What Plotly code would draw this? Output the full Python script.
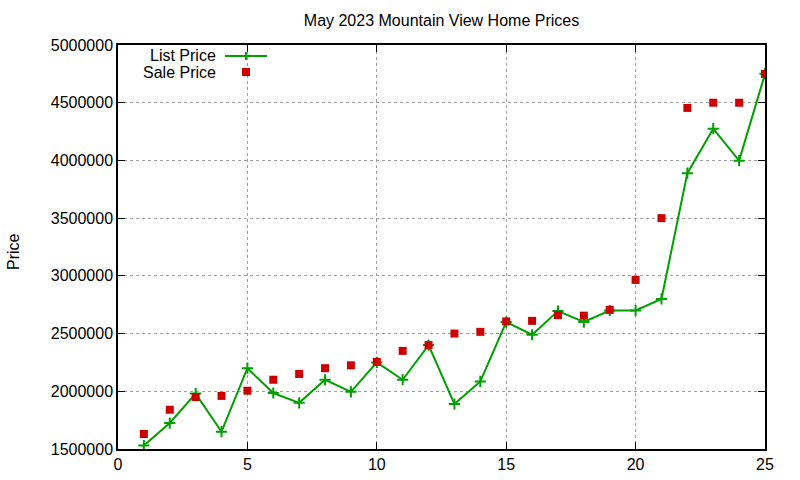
import plotly.graph_objects as go

days = list(range(1, 26))
list_price = [1530000, 1725000, 1980000, 1650000, 2200000, 1985000, 1900000, 2100000,
              1995000, 2250000, 2100000, 2400000, 1890000, 2085000, 2600000, 2490000,
              2695000, 2600000, 2700000, 2700000, 2800000, 3890000, 4275000, 3998000, 4750000]
sale_price = [1630000, 1840000, 1950000, 1960000, 2005000, 2100000, 2150000, 2200000,
              2225000, 2255000, 2350000, 2400000, 2500000, 2515000, 2605000, 2610000,
              2660000, 2655000, 2705000, 2965000, 3500000, 4455000, 4500000, 4500000, 4750000]
x_ticks = [0, 5, 10, 15, 20, 25]
y_ticks = [1500000, 2000000, 2500000, 3000000, 3500000, 4000000, 4500000, 5000000]

GREEN = "#00a000"
RED = "#cc0000"
FONT = "Liberation Sans, Arial, sans-serif"

fig = go.Figure()
fig.add_trace(go.Scatter(x=days, y=list_price, mode="lines+markers", name="List Price",
                         line=dict(color=GREEN, width=2),
                         marker=dict(symbol="cross-thin", size=8, line=dict(color=GREEN, width=2))))
fig.add_trace(go.Scatter(x=days, y=sale_price, mode="markers", name="Sale Price",
                         marker=dict(symbol="square", size=8, color=RED)))

W, H = 800, 480
L, R, T, B = 118, 35, 45, 31
pw, ph = W - L - R, H - T - B

def px(xp):
    return (xp - L) / pw

def py(yp):
    return (H - B - yp) / ph

annotations = [
    dict(text="List Price", x=px(218), y=py(55), xref="paper", yref="paper",
         xanchor="right", yanchor="middle", showarrow=False, font=dict(size=16, color="#000", family=FONT)),
    dict(text="Sale Price", x=px(218), y=py(73), xref="paper", yref="paper",
         xanchor="right", yanchor="middle", showarrow=False, font=dict(size=16, color="#000", family=FONT)),
    dict(text="Price", x=px(13), y=py(252), xref="paper", yref="paper", textangle=-90,
         xanchor="center", yanchor="middle", showarrow=False, font=dict(size=16, color="#000", family=FONT)),
]
shapes = [
    dict(type="line", xref="paper", yref="paper", x0=px(225), x1=px(267), y0=py(56), y1=py(56),
         line=dict(color=GREEN, width=2)),
    dict(type="line", xref="paper", yref="paper", x0=px(246), x1=px(246), y0=py(52), y1=py(60),
         line=dict(color=GREEN, width=2)),
    dict(type="rect", xref="paper", yref="paper", x0=px(242), x1=px(250), y0=py(68), y1=py(76),
         line=dict(width=0), fillcolor=RED),
]

axis_common = dict(showline=True, linecolor="black", linewidth=1.5, mirror="ticks",
                   ticks="inside", ticklen=7, tickcolor="black", automargin=False,
                   showgrid=True, gridcolor="#a0a0a0", griddash="dot", gridwidth=1,
                   zeroline=False, tickfont=dict(size=16, color="#000", family=FONT))

fig.update_layout(
    width=W, height=H,
    margin=dict(l=L, r=R, t=T, b=B, autoexpand=False),
    paper_bgcolor="white", plot_bgcolor="white",
    showlegend=False,
    title=dict(text="May 2023 Mountain View Home Prices", x=(L + pw / 2) / W, xanchor="center",
               y=1 - 20 / H, yanchor="middle", font=dict(size=16, color="#000", family=FONT)),
    xaxis=dict(range=[0, 25], tickvals=x_ticks, ticktext=[str(v) for v in x_ticks], **axis_common),
    yaxis=dict(range=[1500000, 5000000], tickvals=y_ticks, ticktext=[str(v) for v in y_ticks],
               **axis_common),
    annotations=annotations, shapes=shapes,
)

fig.write_html("out.html", config={"displayModeBar": False},
               post_script="document.body.style.margin='0';document.body.style.overflow='hidden';")
